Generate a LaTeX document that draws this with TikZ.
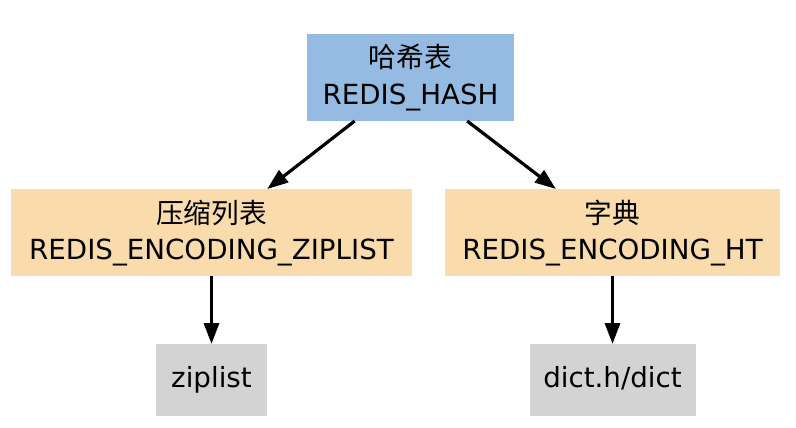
\documentclass[tikz,border=0pt]{standalone}
\usepackage{fontspec}
\setmainfont{DejaVu Sans}
\newfontfamily\cjk{Noto Sans CJK SC}
\usetikzlibrary{arrows.meta}
\definecolor{hashblue}{HTML}{95BBE2}
\definecolor{encwheat}{HTML}{FADCAC}
\definecolor{implgray}{HTML}{D3D3D3}
\begin{document}
\begin{tikzpicture}[x=1pt,y=-1pt,
  box/.style={inner sep=0pt, outer sep=0pt, draw=none},
  encbox/.style={box, fill=encwheat, minimum height=87pt},
  implbox/.style={box, fill=implgray, minimum height=72pt},
  lbl/.style={anchor=base, inner sep=0pt, outer sep=0pt, font=\fontsize{27.7}{33}\selectfont},
  edge/.style={line width=3.2pt, -{Triangle[length=21pt,width=15pt]}}]
\path[use as bounding box] (0,0) rectangle (796,428);
% boxes
\node[box, fill=hashblue, minimum width=207pt, minimum height=87pt] (hash) at (410.5,77.5) {};
\node[encbox, minimum width=401pt] (zipenc) at (211.5,232.5) {};
\node[encbox, minimum width=335pt] (htenc) at (612.5,232.5) {};
\node[implbox, minimum width=111pt] (ziplist) at (211.5,380) {};
\node[implbox, minimum width=166pt] (dict) at (612.5,380) {};
% labels
\node[lbl] (hashcn) at (410.5,68) {\cjk 哈希表};
\node[lbl] (hashen) at (410.5,104) {REDIS\_HASH};
\node[lbl] (zipcn) at (211.5,223) {\cjk 压缩列表};
\node[lbl] (zipen) at (211.5,259) {REDIS\_ENCODING\_ZIPLIST};
\node[lbl] (htcn) at (612.5,223) {\cjk 字典};
\node[lbl] (hten) at (612.5,259) {REDIS\_ENCODING\_HT};
\node[lbl] (ziplisttxt) at (211.5,387) {ziplist};
\node[lbl] (dicttxt) at (612.5,387) {dict.h/dict};
% edges
\draw[edge] (hash) -- (zipenc);
\draw[edge] (hash) -- (htenc);
\draw[edge] (zipenc) -- (ziplist);
\draw[edge] (htenc) -- (dict);
\end{tikzpicture}
\end{document}
